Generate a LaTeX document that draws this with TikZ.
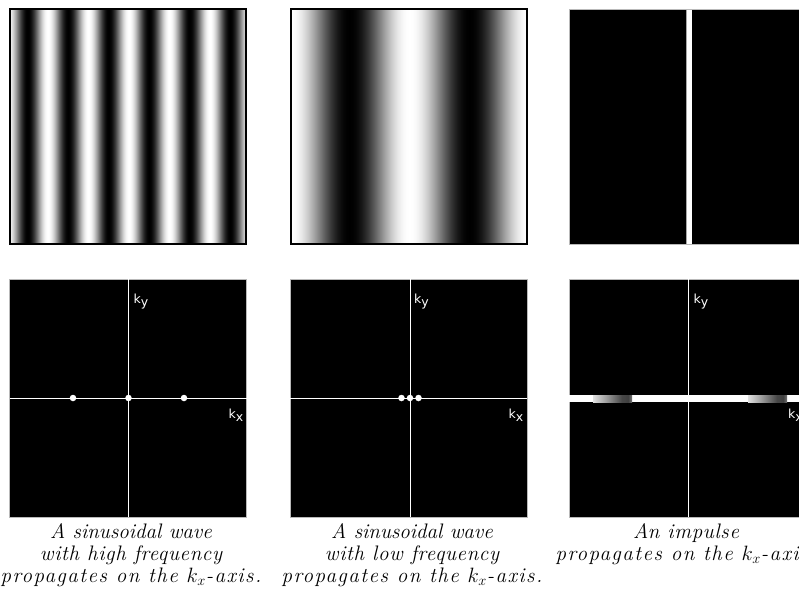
\documentclass[tikz,border=0pt]{standalone}
\usepackage{fontspec}
\newfontfamily\labfont{DejaVu Sans}
\newfontfamily\capA{Latin Modern Roman}[LetterSpace=7.0]
\newfontfamily\capB{Latin Modern Roman}[LetterSpace=3.0]
\newcommand{\capsetup}{\fontsize{21}{22}\selectfont\itshape}
\newcommand{\lineA}[1]{{\capA\itshape #1}}
\newcommand{\lineB}[1]{{\capB\itshape #1}}
\pgfdeclarehorizontalshading{patch}{100bp}{color(0bp)=(black!12); color(25bp)=(black!12); color(40bp)=(black!35); color(62bp)=(black!72); color(70bp)=(black!75); color(75bp)=(black!55); color(100bp)=(black!55)}
\tikzset{
  frameline/.style={draw=black, line width=1.5pt},
  specbox/.style={fill=black, draw=gray!55, line width=0.6pt},
  axisline/.style={draw=white, line width=0.9pt},
  peak/.style={circle, fill=white, inner sep=0pt, minimum size=6.5pt},
  klabel/.style={text=white, font=\labfont\fontsize{12.5}{13}\selectfont, inner sep=0pt, anchor=north west},
  caption/.style={align=center, inner sep=0pt, anchor=north, font=\capsetup}
}
\newcommand{\kl}[1]{k\raisebox{-3.5pt}{#1}}
\begin{document}
\begin{tikzpicture}[x=1pt,y=-1pt]
\useasboundingbox (0,0) rectangle (799,590);
\clip (0,0) rectangle (799,590);
% ---------- top row ----------
% high frequency wave
\foreach \i in {0,...,235}{
  \pgfmathsetmacro\v{max(0,min(100,50+50*cos(8.8889*(\i-17.5))))}
  \fill[black!\v] (10+\i,9) rectangle ++(1.4,235);
}
\draw[frameline] (10,9) rectangle (246,244);
% low frequency wave
\foreach \i in {0,...,235}{
  \pgfmathsetmacro\v{max(0,min(100,50+50*cos(3*(\i-58.5))))}
  \fill[black!\v] (291+\i,9) rectangle ++(1.4,235);
}
\draw[frameline] (291,9) rectangle (527,244);
% impulse
\fill[black, draw=gray!55, line width=0.6pt] (569,9.5) rectangle (812,244);
\fill[white] (686,9.5) rectangle (692,244);
\draw[gray!70, line width=0.6pt] (686,9.5) -- (686,244);
% ---------- bottom row ----------
% spectrum 1
\path[specbox] (9.5,279) rectangle (246.5,517);
\coordinate (a-t) at (128.5,279); \coordinate (a-b) at (128.5,517);
\coordinate (a-l) at (9.5,398);   \coordinate (a-r) at (246.5,398);
\draw[axisline] (a-t) -- (a-b);
\draw[axisline] (a-l) -- (a-r);
\node[peak] (a-p1) at (73,398) {};
\node[peak] (a-p0) at (128.5,398) {};
\node[peak] (a-p2) at (184,398) {};
\node[klabel] (a-ky) at (133.5,293.5) {\kl{y}};
\node[klabel] (a-kx) at (228.5,408.5) {\kl{x}};
% spectrum 2
\path[specbox] (290,279) rectangle (527,517);
\coordinate (b-t) at (410,279); \coordinate (b-b) at (410,517);
\coordinate (b-l) at (290,398); \coordinate (b-r) at (527,398);
\draw[axisline] (b-t) -- (b-b);
\draw[axisline] (b-l) -- (b-r);
\node[peak] (b-p1) at (401.5,398) {};
\node[peak] (b-p0) at (410,398) {};
\node[peak] (b-p2) at (418.5,398) {};
\node[klabel] (b-ky) at (414,293.5) {\kl{y}};
\node[klabel] (b-kx) at (508.5,408.5) {\kl{x}};
% spectrum 3
\path[specbox] (569,279) rectangle (812,517);
\coordinate (c-t) at (688.5,279); \coordinate (c-b) at (688.5,517);
\draw[axisline] (c-t) -- (c-b);
\fill[white] (569,395) rectangle (812,402);
\shade[shading=patch] (593,395) rectangle (632,402);
\shade[shading=patch] (748,395) rectangle (787,402);
\node[klabel] (c-ky) at (693.5,293.5) {\kl{y}};
\node[klabel] (c-kx) at (788,408.5) {\kl{x}};
% ---------- captions ----------
\node[caption] (cap1) at (131,523.5) {A sinusoidal wave\\\lineB{with high frequency}\\\lineA{propagates on the $k_x$-axis.}};
\node[caption] (cap2) at (412,523.5) {A sinusoidal wave\\\lineB{with low frequency}\\\lineA{propagates on the $k_x$-axis.}};
\node[caption] (cap3) at (686,523.5) {\lineB{An impulse}\\\lineA{propagates on the $k_x$-axis.}};
\end{tikzpicture}
\end{document}
